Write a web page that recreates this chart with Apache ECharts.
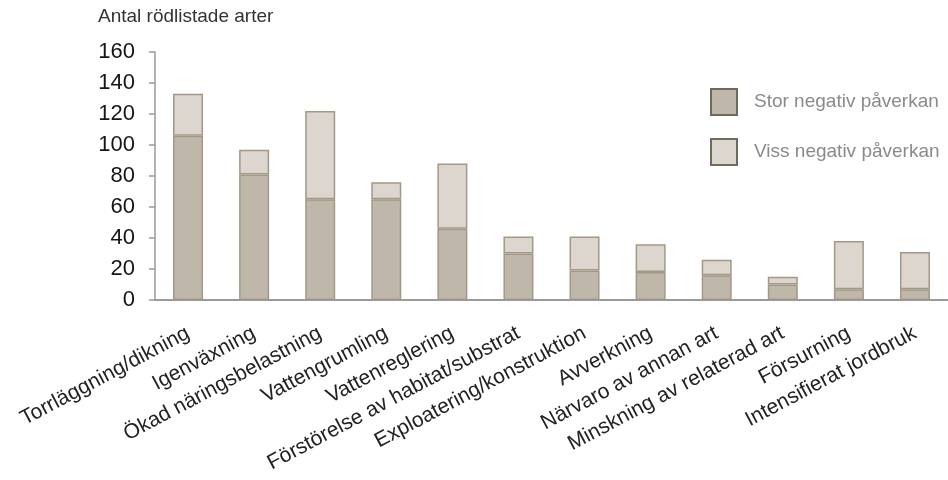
<!DOCTYPE html>
<html>
<head>
<meta charset="utf-8">
<script src="https://cdn.jsdelivr.net/npm/echarts@6/dist/echarts.min.js"></script>
<style>
html,body{margin:0;padding:0;background:#fff;}
#c{width:948px;height:480px;}
</style>
</head>
<body>
<div id="c"></div>
<script>
var categories = ["Torrläggning/dikning","Igenväxning","Ökad näringsbelastning","Vattengrumling","Vattenreglering","Förstörelse av habitat/substrat","Exploatering/konstruktion","Avverkning","Närvaro av annan art","Minskning av relaterad art","Försurning","Intensifierat jordbruk"];
var storValues = [106,81,65,65,46,30,19,18,16,10,7,7];
var vissValues = [27,16,57,11,42,11,22,18,10,5,31,24];
var yTicks = [0,20,40,60,80,100,120,140,160];
var seriesNames = ["Stor negativ påverkan","Viss negativ påverkan"];

var font = '"Liberation Sans", Arial, Helvetica, sans-serif';
var chart = echarts.init(document.getElementById('c'), null, {renderer:'canvas'});
chart.setOption({
  backgroundColor:'#ffffff',
  animation:false,
  title:{
    text:'Antal rödlistade arter',
    left:98, top:7, padding:0,
    textStyle:{fontFamily:font, fontSize:19, fontWeight:'normal', color:'#333333'}
  },
  legend:{
    orient:'vertical',
    left:710, top:88, padding:0,
    itemWidth:26, itemHeight:26, itemGap:22,
    icon:'rect',
    textStyle:{fontFamily:font, fontSize:19, color:'#8a8a8a', padding:[0,0,0,12]},
    data:[
      {name:seriesNames[0], itemStyle:{color:'#c0b7ab', borderColor:'#6e6b5a', borderWidth:2}},
      {name:seriesNames[1], itemStyle:{color:'#ddd6cf', borderColor:'#6e6b5a', borderWidth:2}}
    ]
  },
  grid:{left:155, right:-10.5, top:52, bottom:180},
  xAxis:{
    type:'category',
    data:categories,
    axisLine:{show:true, lineStyle:{color:'#9a9a9a', width:2}},
    axisTick:{show:false},
    axisLabel:{rotate:28, margin:32, interval:0, fontFamily:font, fontSize:21, color:'#222222'}
  },
  yAxis:{
    type:'value',
    min:0, max:160, interval:20,
    axisLine:{show:true, lineStyle:{color:'#9a9a9a', width:1.5}},
    axisTick:{show:true, length:6, lineStyle:{color:'#9a9a9a', width:1.5}},
    splitLine:{show:false},
    axisLabel:{margin:20, fontFamily:font, fontSize:22, color:'#151515',
      formatter:function(v){return yTicks.indexOf(v)>=0 ? String(v) : '';}}
  },
  series:[
    {name:seriesNames[0], type:'bar', stack:'a', data:storValues, barWidth:30,
      itemStyle:{color:'#c0b7ab', borderColor:'#a39886', borderWidth:1.5}},
    {name:seriesNames[1], type:'bar', stack:'a', data:vissValues, barWidth:30,
      itemStyle:{color:'#ddd6cf', borderColor:'#a39886', borderWidth:1.5}}
  ]
});
</script>
</body>
</html>
